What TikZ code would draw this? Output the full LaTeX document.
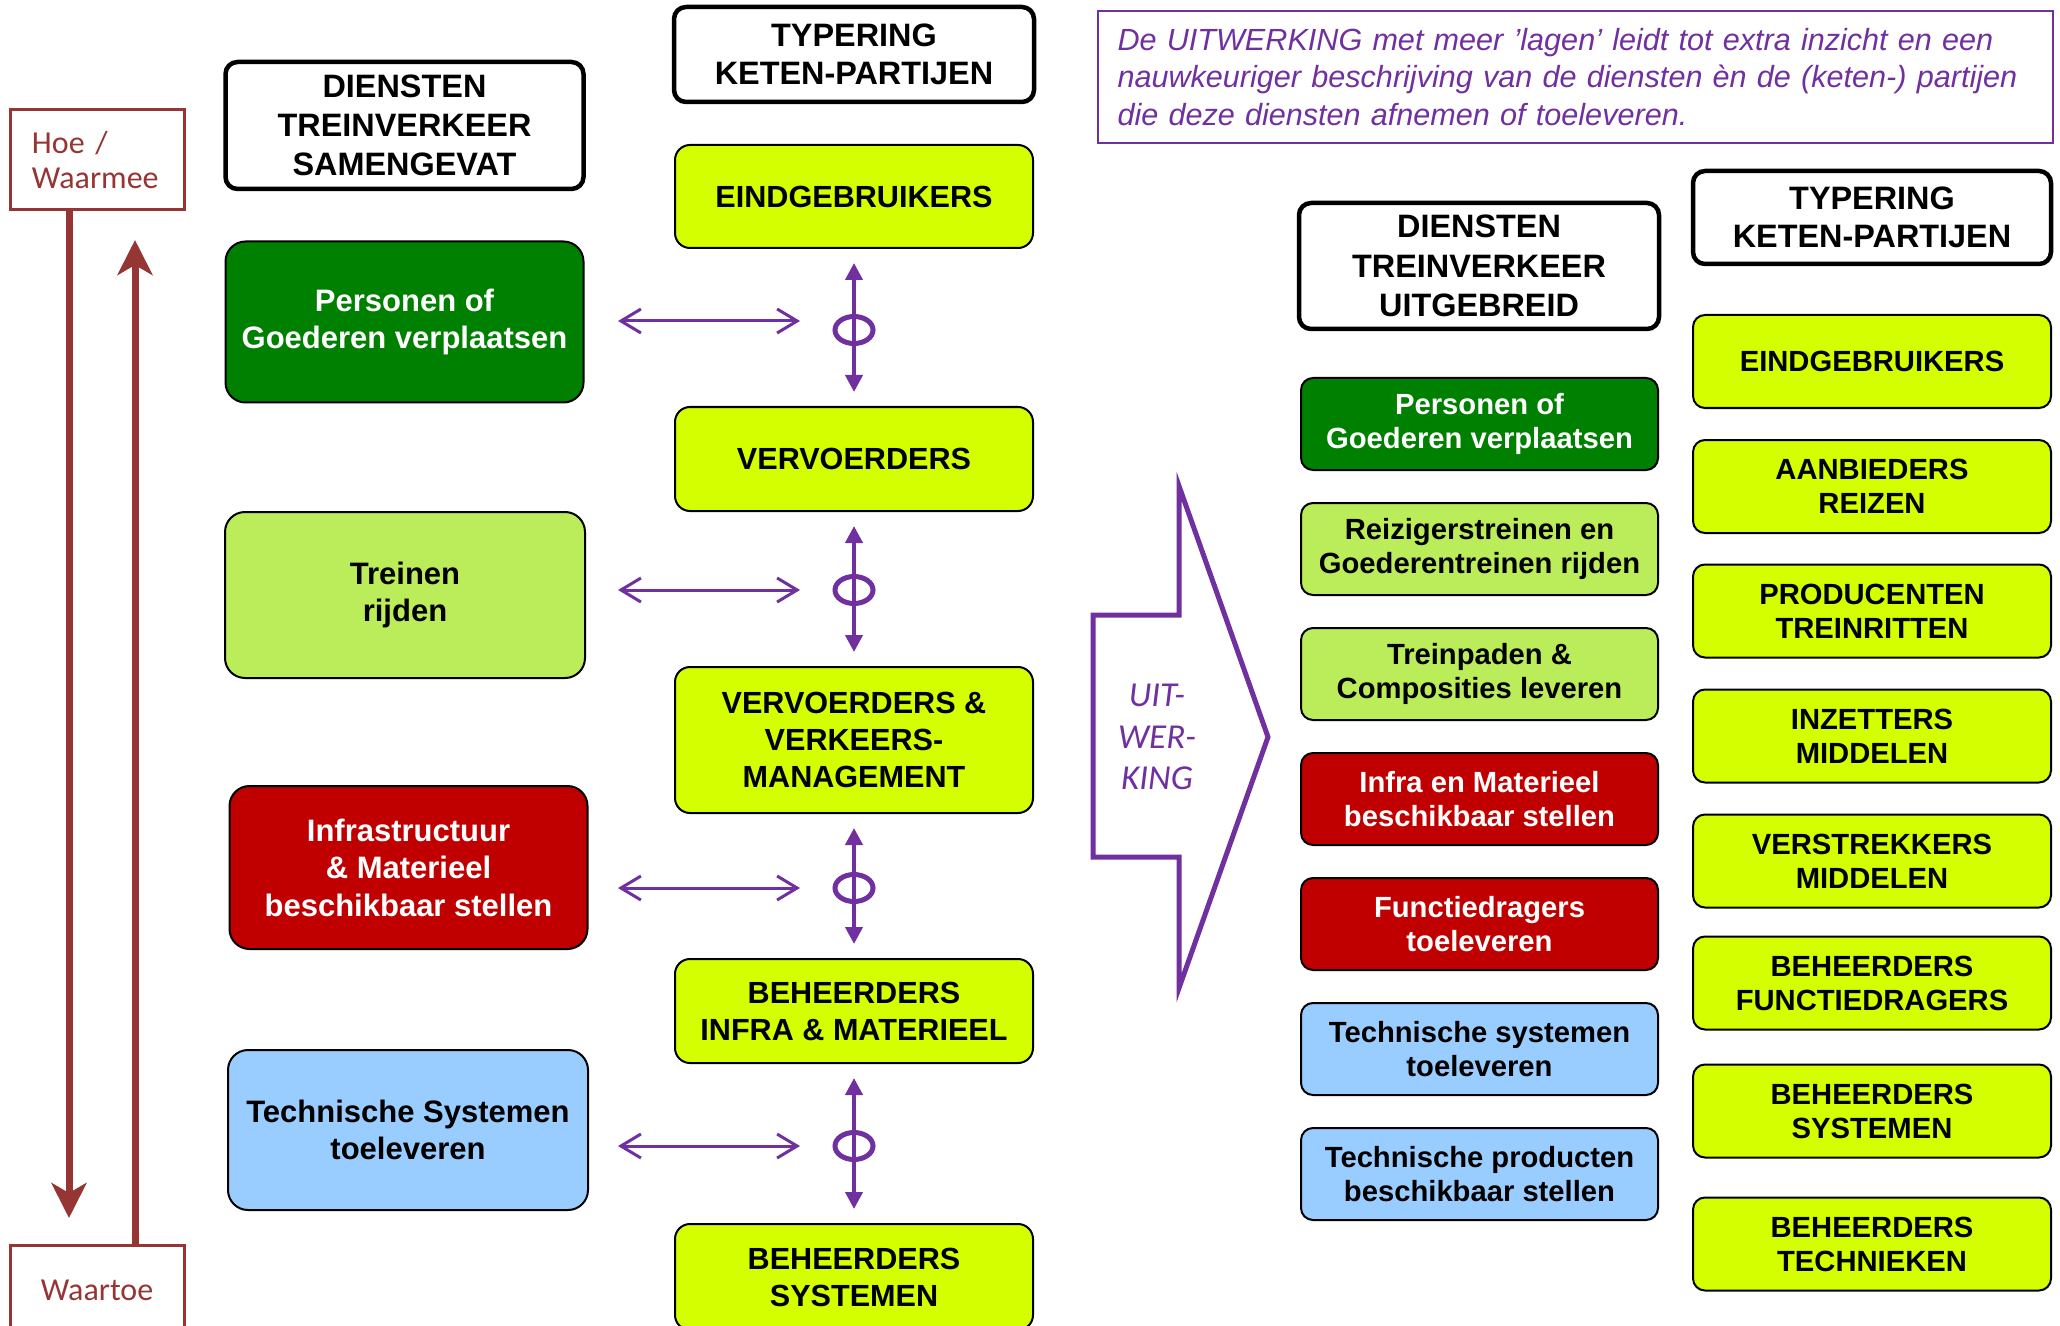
\documentclass[tikz,border=0pt]{standalone}
\usepackage{fontspec}
\setmainfont{Liberation Sans}
\newfontfamily\calibri{Carlito}
\usetikzlibrary{arrows.meta, shapes.geometric, positioning}
\definecolor{partijgeel}{RGB}{212,255,0}
\definecolor{lichtgroen}{RGB}{187,236,90}
\definecolor{donkergroen}{RGB}{0,128,0}
\definecolor{donkerrood}{RGB}{192,0,0}
\definecolor{lichtblauw}{RGB}{153,204,255}
\definecolor{paars}{RGB}{112,48,160}
\definecolor{bruinrood}{RGB}{150,54,52}
\tikzset{
  align=center,
  kop/.style={draw, line width=2.25pt, rounded corners=6pt, fill=white, inner sep=0pt, minimum width=179pt, font=\bfseries\fontsize{16.2}{19.6}\selectfont},
  kopsmal/.style={kop, font=\bfseries\fontsize{16.2}{19.2}\selectfont},
  links/.style={draw, line width=1pt, rounded corners=10pt, inner sep=0pt, minimum width=179pt, font=\bfseries\fontsize{15.5}{18.75}\selectfont},
  midden/.style={draw, line width=1pt, rounded corners=7.5pt, fill=partijgeel, inner sep=0pt, minimum width=179pt, minimum height=52pt, font=\bfseries\fontsize{15.3}{18.5}\selectfont},
  dienst/.style={draw, line width=1pt, rounded corners=6pt, inner sep=0pt, minimum width=178.5pt, minimum height=46pt, font=\bfseries\fontsize{14.6}{17}\selectfont},
  partij/.style={dienst, minimum width=179pt, minimum height=46.5pt, fill=partijgeel, font=\bfseries\fontsize{14.6}{17}\selectfont},
  groen/.style={fill=donkergroen, text=white},
  licht/.style={fill=lichtgroen},
  rood/.style={fill=donkerrood, text=white},
  blauw/.style={fill=lichtblauw},
  hoebox/.style={draw=bruinrood, line width=1.5pt, fill=white, text=bruinrood, inner sep=0pt, minimum width=87pt, font=\calibri\fontsize{16}{17.5}\selectfont},
  hoepto/.style={-{Stealth[length=17.5pt,width=17.5pt,inset=5pt]}, line width=3.5pt, bruinrood},
  vpto/.style={{Triangle[length=8.5pt,width=8.5pt]}-{Triangle[length=8.5pt,width=8.5pt]}, line width=2pt, paars, shorten <=7pt, shorten >=7pt},
  hpto/.style={{Straight Barb[length=10pt,width=12pt]}-{Straight Barb[length=10pt,width=12pt]}, line width=1.5pt, paars},
  ring/.style={ellipse, draw=paars, line width=2.5pt, minimum width=19pt, minimum height=13.5pt, inner sep=0pt}
}

\begin{document}
\begin{tikzpicture}[x=0.5pt, y=-0.5pt]
  \useasboundingbox (0,0) rectangle (2060,1326);

  % hoe / waartoe
  \node[hoebox, minimum height=50pt, text width=65pt, align=left] (hoe) at (97,160) {Hoe /\\Waarmee};
  \node[hoebox, minimum height=45pt] (waartoe) at (97,1290) {Waartoe};
  \coordinate (neer) at (69,1218);
  \coordinate (op) at (135,240);
  \draw[hoepto] ([xshift=-14pt]hoe.south) -- (neer);
  \draw[hoepto] ([xshift=19pt]waartoe.north) -- (op);

  % diensten samengevat
  \node[kop, minimum height=63.5pt] (samengevat) at (404.5,125.5) {DIENSTEN\\TREINVERKEER\\SAMENGEVAT};
  \node[links, groen, minimum height=80.5pt] (personen) at (404.5,322) {Personen of\\Goederen verplaatsen};
  \node[links, licht, minimum width=180pt, minimum height=83pt] (treinen) at (405,595) {Treinen\\rijden};
  \node[links, rood, minimum height=81.5pt] (infra) at (408.5,867.5) {Infrastructuur\\\& Materieel\\beschikbaar stellen};
  \node[links, blauw, minimum width=180pt, minimum height=80pt] (techsys) at (408,1130) {Technische Systemen\\toeleveren};

  % typering keten-partijen
  \node[kopsmal, minimum width=180pt, minimum height=47.5pt] (typering) at (854,54.5) {TYPERING\\KETEN-PARTIJEN};
  \node[midden, minimum height=51.5pt] (eind) at (854,196.5) {EINDGEBRUIKERS};
  \node[midden] (vervoerders) at (854,459) {VERVOERDERS};
  \node[midden, minimum height=73pt] (verkeer) at (854,740) {VERVOERDERS \&\\VERKEERS-\\MANAGEMENT};
  \node[midden] (behinfra) at (854,1011) {BEHEERDERS\\INFRA \& MATERIEEL};
  \node[midden, minimum height=53pt] (behsys) at (854,1277) {BEHEERDERS\\SYSTEMEN};

  \node[ring] (r1) at (854,330) {};
  \node[ring] (r2) at (854,590) {};
  \node[ring] (r3) at (854,888) {};
  \node[ring] (r4) at (854,1146) {};
  \draw[vpto] (eind) -- (vervoerders);
  \draw[vpto] (vervoerders) -- (verkeer);
  \draw[vpto] (verkeer) -- (behinfra);
  \draw[vpto] (behinfra) -- (behsys);
  \draw[hpto] ([xshift=-27pt,yshift=4.5pt]r1.center) -- ++(-91pt,0);
  \draw[hpto] ([xshift=-27pt]r2.center) -- ++(-91pt,0);
  \draw[hpto] ([xshift=-27pt]r3.center) -- ++(-91pt,0);
  \draw[hpto] ([xshift=-27pt]r4.center) -- ++(-91pt,0);

  % toelichting
  \node[draw=paars, line width=0.6pt, text=paars, minimum width=477.5pt, minimum height=66pt, text width=458pt, align=left, font=\itshape\fontsize{15.3}{18.75}\selectfont] (toelichting) at (1575.5,77) {De UITWERKING met meer 'lagen' leidt tot extra inzicht en een\\nauwkeuriger beschrijving van de diensten èn de (keten-) partijen\\die deze diensten afnemen of toeleveren.};

  % uitwerking pijl
  \draw[paars, line width=2.5pt] (1093,615) -- (1179,615) -- (1179,486) -- (1268,737) -- (1179,988) -- (1179,857) -- (1093,857) -- cycle;
  \node[text=paars, font=\calibri\itshape\fontsize{17.5}{20.7}\selectfont] (uitwerking) at (1157,737) {UIT-\\WER-\\KING};

  % diensten uitgebreid
  \node[kop, minimum width=180pt, minimum height=63pt] (uitgebreid) at (1479,266) {DIENSTEN\\TREINVERKEER\\UITGEBREID};
  \node[dienst, groen] (personen2) at (1479.5,424) {Personen of\\Goederen verplaatsen};
  \node[dienst, licht] (reizigers) at (1479.5,549) {Reizigerstreinen en\\Goederentreinen rijden};
  \node[dienst, licht] (paden) at (1479.5,674) {Treinpaden \&\\Composities leveren};
  \node[dienst, rood] (infra2) at (1479.5,799) {Infra en Materieel\\beschikbaar stellen};
  \node[dienst, rood] (functie) at (1479.5,924) {Functiedragers\\toeleveren};
  \node[dienst, blauw] (techsys2) at (1479.5,1049) {Technische systemen\\toeleveren};
  \node[dienst, blauw] (techprod) at (1479.5,1174) {Technische producten\\beschikbaar stellen};

  % typering uitgebreid
  \node[kopsmal, minimum height=46.5pt] (typering2) at (1872,217.5) {TYPERING\\KETEN-PARTIJEN};
  \node[partij] (eind2) at (1872,361.5) {EINDGEBRUIKERS};
  \node[partij] (aanbieders) at (1872,486.5) {AANBIEDERS\\REIZEN};
  \node[partij] (producenten) at (1872,611) {PRODUCENTEN\\TREINRITTEN};
  \node[partij] (inzetters) at (1872,736) {INZETTERS\\MIDDELEN};
  \node[partij] (verstrekkers) at (1872,861) {VERSTREKKERS\\MIDDELEN};
  \node[partij] (behfunctie) at (1872,983) {BEHEERDERS\\FUNCTIEDRAGERS};
  \node[partij] (behsys2) at (1872,1111) {BEHEERDERS\\SYSTEMEN};
  \node[partij] (behtech) at (1872,1244) {BEHEERDERS\\TECHNIEKEN};
\end{tikzpicture}
\end{document}
